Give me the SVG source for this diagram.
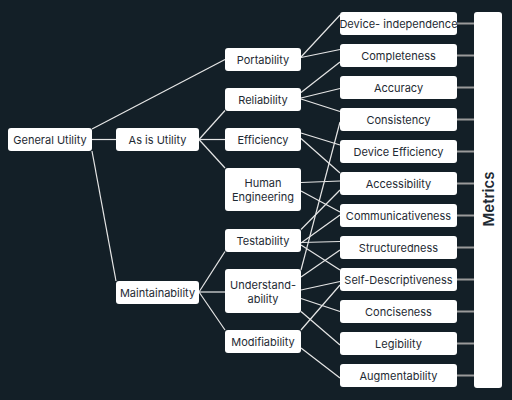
<svg xmlns="http://www.w3.org/2000/svg" width="512" height="400" viewBox="0 0 512 400">
<style>
.bg{fill:#131f27}
.n rect{fill:#ffffff;rx:3px}
.n text{font-family:Inter,"Noto Sans",sans-serif;font-size:11px;fill:#1e2a33;text-anchor:middle;dominant-baseline:central}
.e line{stroke:#e6e6e6;stroke-width:1.2}
.m line{stroke:#9a9a9a;stroke-width:2}
.n text.t{font-size:15px;font-weight:600}
</style>
<rect class="bg" x="0" y="0" width="512" height="400"/>
<g id="connectors">
<g class="e">
<line x1="92" y1="129" x2="225" y2="59.5"/>
<line x1="92" y1="139.5" x2="116" y2="139.5"/>
<line x1="92" y1="151" x2="116" y2="281"/>
<line x1="199" y1="139.5" x2="225" y2="110.5"/>
<line x1="199" y1="139.5" x2="225" y2="139.5"/>
<line x1="199" y1="139.5" x2="225" y2="168"/>
<line x1="199" y1="292" x2="225" y2="251.5"/>
<line x1="199" y1="292" x2="225" y2="292"/>
<line x1="199" y1="292" x2="225" y2="330"/>
<line x1="301" y1="57" x2="340" y2="15"/>
<line x1="301" y1="57.5" x2="340" y2="49.5"/>
<line x1="301" y1="92.5" x2="340" y2="62"/>
<line x1="301" y1="98" x2="340" y2="88.5"/>
<line x1="301" y1="99" x2="340" y2="111.5"/>
<line x1="301" y1="133" x2="340" y2="145"/>
<line x1="301" y1="138.5" x2="340" y2="173"/>
<line x1="301" y1="182.5" x2="340" y2="181"/>
<line x1="301" y1="191" x2="340" y2="212"/>
<line x1="301" y1="229.5" x2="340" y2="190"/>
<line x1="301" y1="243" x2="340" y2="215"/>
<line x1="301" y1="242.5" x2="340" y2="241.5"/>
<line x1="301" y1="245" x2="340" y2="270"/>
<line x1="301" y1="270" x2="340" y2="122"/>
<line x1="301" y1="277" x2="340" y2="250"/>
<line x1="301" y1="290" x2="340" y2="281.5"/>
<line x1="301" y1="298.5" x2="340" y2="311.5"/>
<line x1="301" y1="311.5" x2="340" y2="345"/>
<line x1="301" y1="330" x2="340" y2="285"/>
<line x1="301" y1="348" x2="340" y2="378"/>
</g>
<g class="m">
<line x1="457" y1="23.5" x2="474" y2="23.5"/>
<line x1="457" y1="55.5" x2="474" y2="55.5"/>
<line x1="457" y1="87.5" x2="474" y2="87.5"/>
<line x1="457" y1="119.5" x2="474" y2="119.5"/>
<line x1="457" y1="151.5" x2="474" y2="151.5"/>
<line x1="457" y1="183.5" x2="474" y2="183.5"/>
<line x1="457" y1="215.5" x2="474" y2="215.5"/>
<line x1="457" y1="247.5" x2="474" y2="247.5"/>
<line x1="457" y1="279.5" x2="474" y2="279.5"/>
<line x1="457" y1="311.5" x2="474" y2="311.5"/>
<line x1="457" y1="343.5" x2="474" y2="343.5"/>
<line x1="457" y1="375.5" x2="474" y2="375.5"/>
</g>
</g>
<g id="general-utility" class="n"><rect x="8" y="128" width="84" height="23"/><text x="50" y="140">General Utility</text></g>
<g id="as-is-utility" class="n"><rect x="116" y="128" width="83" height="23"/><text x="157.5" y="140">As is Utility</text></g>
<g id="maintainability" class="n"><rect x="116" y="281" width="83" height="23"/><text x="157.5" y="293">Maintainability</text></g>
<g id="portability" class="n"><rect x="225" y="48" width="76" height="23"/><text x="263" y="60">Portability</text></g>
<g id="reliability" class="n"><rect x="225" y="88" width="76" height="23"/><text x="263" y="100">Reliability</text></g>
<g id="efficiency" class="n"><rect x="225" y="128" width="76" height="23"/><text x="263" y="140">Efficiency</text></g>
<g id="human-engineering" class="n"><rect x="225" y="168" width="76" height="43"/><text x="263" y="183">Human</text><text x="263" y="197">Engineering</text></g>
<g id="testability" class="n"><rect x="225" y="229" width="76" height="23"/><text x="263" y="241">Testability</text></g>
<g id="understandability" class="n"><rect x="225" y="269" width="76" height="44"/><text x="263" y="285">Understand-</text><text x="263" y="299">ability</text></g>
<g id="modifiability" class="n"><rect x="225" y="330" width="76" height="23"/><text x="263" y="342">Modifiability</text></g>
<g id="device-independence" class="n"><rect x="340" y="12" width="117" height="23"/><text x="398.5" y="24">Device- independence</text></g>
<g id="completeness" class="n"><rect x="340" y="44" width="117" height="23"/><text x="398.5" y="56">Completeness</text></g>
<g id="accuracy" class="n"><rect x="340" y="76" width="117" height="23"/><text x="398.5" y="88">Accuracy</text></g>
<g id="consistency" class="n"><rect x="340" y="108" width="117" height="23"/><text x="398.5" y="120">Consistency</text></g>
<g id="device-efficiency" class="n"><rect x="340" y="140" width="117" height="23"/><text x="398.5" y="152">Device Efficiency</text></g>
<g id="accessibility" class="n"><rect x="340" y="172" width="117" height="23"/><text x="398.5" y="184">Accessibility</text></g>
<g id="communicativeness" class="n"><rect x="340" y="204" width="117" height="23"/><text x="398.5" y="216">Communicativeness</text></g>
<g id="structuredness" class="n"><rect x="340" y="236" width="117" height="23"/><text x="398.5" y="248">Structuredness</text></g>
<g id="self-descriptiveness" class="n"><rect x="340" y="268" width="117" height="23"/><text x="398.5" y="280">Self-Descriptiveness</text></g>
<g id="conciseness" class="n"><rect x="340" y="300" width="117" height="23"/><text x="398.5" y="312">Conciseness</text></g>
<g id="legibility" class="n"><rect x="340" y="332" width="117" height="23"/><text x="398.5" y="344">Legibility</text></g>
<g id="augmentability" class="n"><rect x="340" y="364" width="117" height="23"/><text x="398.5" y="376">Augmentability</text></g>
<g id="metrics" class="n"><rect x="474" y="12" width="28" height="376"/><text class="t" x="488" y="199" transform="rotate(-90 488 199)">Metrics</text></g>
</svg>
